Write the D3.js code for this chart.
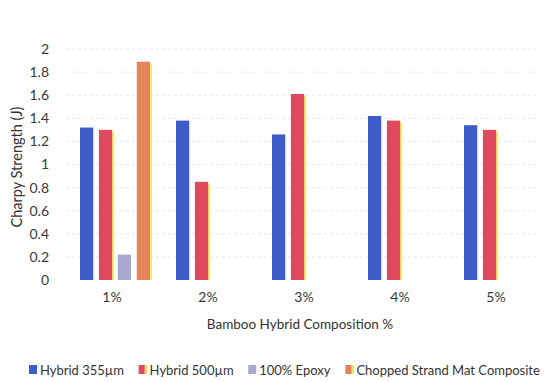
<!DOCTYPE html>
<html>
<head>
<meta charset="utf-8">
<script src="https://cdn.jsdelivr.net/npm/d3@7"></script>
<style>
  html, body { margin: 0; padding: 0; background: #fff; }
  svg { display: block; font-family: Lato, "Open Sans", sans-serif; }
</style>
</head>
<body>
<svg id="chart" width="544" height="382"></svg>
<script>
// Charpy impact strength by bamboo hybrid composition
const categories = ["1%", "2%", "3%", "4%", "5%"];
const seriesNames = ["Hybrid 355µm", "Hybrid 500µm", "100% Epoxy", "Chopped Strand Mat Composite"];
const hybrid355 = [1.32, 1.38, 1.26, 1.42, 1.34];
const hybrid500 = [1.30, 0.85, 1.61, 1.38, 1.30];
const epoxy = [0.22, null, null, null, null];
const csm = [1.89, null, null, null, null];
const yTicks = [0, 0.2, 0.4, 0.6, 0.8, 1, 1.2, 1.4, 1.6, 1.8, 2];

const seriesValues = [hybrid355, hybrid500, epoxy, csm];
const colors = ["#3d5cc6", "#de4a5c", "#a8a9cf", "#e3855c"];
const edgeTint = [null, "#f4ec4a", null, "#f4ec4a"];

const svg = d3.select("#chart");

const x0 = d3.scaleBand().domain(categories).range([66, 546]).padding(0);
const x1 = d3.scaleBand().domain(seriesNames).range([14, 84]).paddingInner(0.3).paddingOuter(0);
const y = d3.scaleLinear().domain([0, 2]).range([280, 49]);

// faint horizontal gridlines
svg.append("g")
  .selectAll("line")
  .data(yTicks.slice(1))
  .join("line")
  .attr("x1", 66).attr("x2", 540)
  .attr("y1", d => y(d)).attr("y2", d => y(d))
  .attr("stroke", "#e8e8ee")
  .attr("stroke-width", 1)
  .attr("stroke-dasharray", "3,3");

// y axis labels
const yAxis = d3.axisLeft(y).tickValues(yTicks).tickSize(0).tickPadding(0)
  .tickFormat(d3.format("~g"));
const gy = svg.append("g").attr("transform", "translate(49,0)").call(yAxis);
gy.select(".domain").remove();
gy.selectAll("text").attr("font-size", 14).attr("fill", "#3a3a3a")
  .attr("font-family", "Lato, sans-serif");

// bars
const rows = [];
categories.forEach((c, i) => {
  seriesNames.forEach((s, j) => {
    const v = seriesValues[j][i];
    if (v != null) rows.push({ c, s, j, v });
  });
});

const bars = svg.append("g");
bars.selectAll("rect.edge")
  .data(rows.filter(d => edgeTint[d.j]))
  .join("rect")
  .attr("class", "edge")
  .attr("x", d => x0(d.c) + x1(d.s) + 2)
  .attr("y", d => y(d.v) + 2)
  .attr("width", x1.bandwidth())
  .attr("height", d => y(0) - y(d.v) - 2)
  .attr("fill", d => edgeTint[d.j])
  .attr("opacity", 0.85);

bars.selectAll("rect.bar")
  .data(rows)
  .join("rect")
  .attr("class", "bar")
  .attr("x", d => x0(d.c) + x1(d.s))
  .attr("y", d => y(d.v))
  .attr("width", x1.bandwidth())
  .attr("height", d => y(0) - y(d.v))
  .attr("fill", d => colors[d.j]);

// category axis
const xAxis = d3.axisBottom(x0).tickSize(0).tickPadding(0);
const gx = svg.append("g").attr("transform", "translate(-2,292)").call(xAxis);
gx.select(".domain").remove();
gx.selectAll("text").attr("font-size", 14).attr("fill", "#3a3a3a")
  .attr("font-family", "Lato, sans-serif").attr("dy", "0.71em");

// axis titles
svg.append("text")
  .attr("x", 300).attr("y", 329)
  .attr("text-anchor", "middle")
  .attr("font-size", 13.5).attr("fill", "#333")
  .text("Bamboo Hybrid Composition %");

svg.append("text")
  .attr("transform", "translate(22,167) rotate(-90)")
  .attr("text-anchor", "middle")
  .attr("font-size", 14.5).attr("fill", "#333")
  .text("Charpy Strength (J)");

// legend: items laid out in a row, spaced by their measured widths
const legend = svg.append("g").attr("transform", "translate(0,370)");
const items = legend.selectAll("g")
  .data(seriesNames)
  .join("g");
items.append("rect")
  .attr("x", 0).attr("y", -5).attr("width", 8).attr("height", 9)
  .attr("fill", (d, i) => colors[i]);
items.filter((d, i) => edgeTint[i])
  .append("rect")
  .attr("x", 6).attr("y", -5).attr("width", 2).attr("height", 9)
  .attr("fill", "#f4ec4a");
items.append("text")
  .attr("x", 11).attr("y", 5)
  .attr("font-size", 13).attr("fill", "#333")
  .text(d => d);

const widths = [];
items.each(function () { widths.push(this.getBBox().width); });
const left = 29, right = 540;
const gap = (right - left - d3.sum(widths)) / (widths.length - 1);
let cursor = left;
items.attr("transform", (d, i) => {
  const t = `translate(${cursor},0)`;
  cursor += widths[i] + gap;
  return t;
});
</script>
</body>
</html>
